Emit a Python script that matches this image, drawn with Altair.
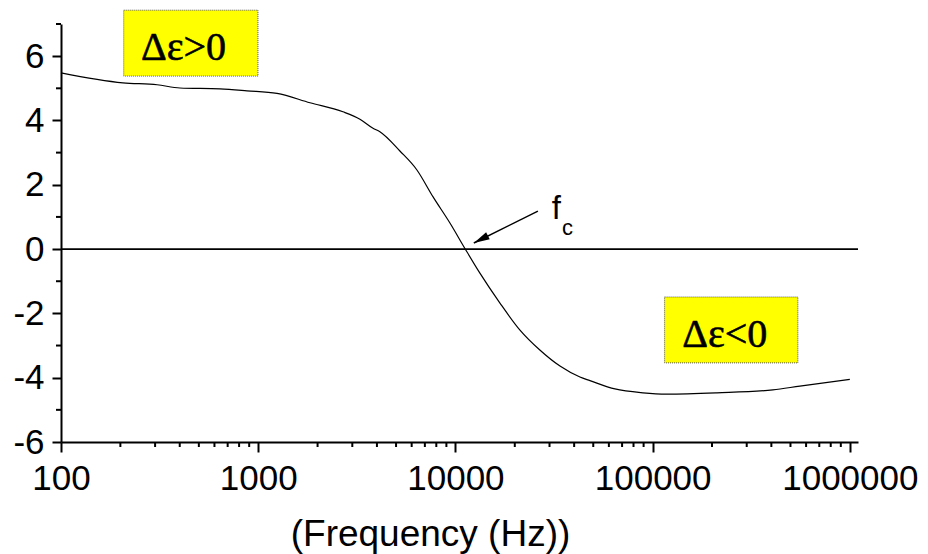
import altair as alt
import pandas as pd

# Δε(f) dielectric anisotropy curve
freq = [100, 206, 307, 401, 640, 877, 1245, 1830, 2690, 3280, 3820, 4140, 5230,
        6380, 7690, 9380, 11170, 13310, 16820, 21250, 26800, 33900, 42800, 48100,
        64400, 89300, 118000, 212000, 407000, 558000, 1000000]
deps = [5.48, 5.17, 5.11, 5.01, 4.98, 4.92, 4.84, 4.55, 4.27, 4.04, 3.76, 3.65, 3.05,
        2.46, 1.63, 0.81, 0.02, -0.75, -1.68, -2.52, -3.14, -3.64, -3.98, -4.09,
        -4.35, -4.47, -4.51, -4.47, -4.38, -4.26, -4.05]

# yellow label boxes
box_text = ["Δε>0", "Δε<0"]
box_f1 = [208, 115000]
box_f2 = [997, 545000]
box_d1 = [7.43, -1.49]
box_d2 = [5.38, -3.54]
box_text_f = [418, 232000]
box_text_d = [5.875, -3.05]

# crossover annotation (arrow tail -> tip)
arrow_f = [26200]
arrow_f2 = [12400]
arrow_d = [1.18]
arrow_d2 = [0.19]

# axis ticks
x_major = [100, 1000, 10000, 100000, 1000000]
x_minor = [m * d for d in x_major[:-1] for m in range(2, 10)]
y_major = [-6, -4, -2, 0, 2, 4, 6]
y_minor = [-5, -3, -1, 1, 3, 5, 7]

SANS = "Liberation Sans"
SERIF = "Liberation Serif"

W, H = 797, 418

x_scale = alt.Scale(type="log", domain=[100, 1100000], nice=False)
y_scale = alt.Scale(domain=[-6, 7], nice=False, zero=False)

x_axis = alt.Axis(
    values=x_major, labelExpr="'' + datum.value", tickSize=10,
    labelFont=SANS, labelFontSize=35, labelColor="black", labelPadding=9,
    labelOverlap=False, labelFlush=False,
    title="(Frequency (Hz))", titleFont=SANS, titleFontSize=37,
    titleFontWeight="normal", titleColor="black",
    titleX=369, titleY=103, titleBaseline="alphabetic", titleAnchor="middle",
    grid=False, domainColor="black", domainWidth=2, tickColor="black", tickWidth=2,
)
y_axis = alt.Axis(
    values=y_major, labelExpr="'' + datum.value", tickSize=9,
    labelFont=SANS, labelFontSize=35, labelColor="black", labelPadding=8,
    labelOverlap=False, labelFlush=False,
    title="", grid=False, domainColor="black", domainWidth=2,
    tickColor="black", tickWidth=2,
)

curve = pd.DataFrame({"f": freq, "d": deps})
zero = pd.DataFrame({"d": [0]})
boxes = pd.DataFrame({"f": box_f1, "f2": box_f2, "d": box_d1, "d2": box_d2})
box_labels = pd.DataFrame({"f": box_text_f, "d": box_text_d, "t": box_text})
arrow = pd.DataFrame({"f": arrow_f, "f2": arrow_f2, "d": arrow_d, "d2": arrow_d2})
fc_f = pd.DataFrame({"f": [30800], "d": [0.93], "t": ["f"]})
fc_c = pd.DataFrame({"f": [34700], "d": [0.435], "t": ["c"]})
xm = pd.DataFrame({"f": x_minor})
ym = pd.DataFrame({"d": y_minor})


# every layer carries the same scale and axis definition so they merge cleanly
def X(field="f"):
    return alt.X(f"{field}:Q", scale=x_scale, axis=x_axis)


def Y(field="d"):
    return alt.Y(f"{field}:Q", scale=y_scale, axis=y_axis)


line = alt.Chart(curve).mark_line(
    color="black", strokeWidth=1.2, interpolate="monotone"
).encode(x=X(), y=Y(), order="f:Q")

zero_line = alt.Chart(zero).mark_rule(color="black", strokeWidth=1.6).encode(y=Y())

# minor ticks below the x axis and left of the y axis
x_minor_ticks = alt.Chart(xm).mark_rule(color="black", strokeWidth=2).encode(
    x=X(), y=alt.value(H), y2=alt.value(H + 5)
)
y_minor_ticks = alt.Chart(ym).mark_rule(color="black", strokeWidth=2).encode(
    y=Y(), x=alt.value(-5), x2=alt.value(0)
)

rects = alt.Chart(boxes).mark_rect(
    fill="#ffff00", stroke="#333333", strokeWidth=0.8, strokeDash=[1, 1]
).encode(x=X(), x2="f2:Q", y=Y(), y2="d2:Q")

rect_text = alt.Chart(box_labels).mark_text(
    font=SERIF, fontSize=40, fontWeight="normal", color="black",
    stroke="black", strokeWidth=0.6,
    align="center", baseline="alphabetic"
).encode(x=X(), y=Y(), text="t:N")

arrow_line = alt.Chart(arrow).mark_rule(color="black", strokeWidth=1.5).encode(
    x=X(), x2="f2:Q", y=Y(), y2="d2:Q"
)

arrow_head = alt.Chart(arrow).mark_point(
    shape="M0,0L-0.5,2L0.5,2Z", filled=True, color="black", opacity=1,
    size=250, angle=243,
).encode(x=X("f2"), y=Y("d2"))

fc_text = alt.Chart(fc_f).mark_text(
    font=SANS, fontSize=33, color="black", align="left", baseline="alphabetic"
).encode(x=X(), y=Y(), text="t:N")

fc_sub = alt.Chart(fc_c).mark_text(
    font=SANS, fontSize=22, color="black", align="left", baseline="alphabetic"
).encode(x=X(), y=Y(), text="t:N")

chart = alt.layer(
    line, zero_line, x_minor_ticks, y_minor_ticks, rects, rect_text,
    arrow_line, arrow_head, fc_text, fc_sub
).properties(
    width=W,
    height=H,
    autosize=alt.AutoSizeParams(type="none"),
    padding={"left": 61, "top": 24, "right": 70, "bottom": 112},
    background="white",
).configure_view(stroke=None)

chart.save("out.html", embed_options={"renderer": "svg", "actions": False})
